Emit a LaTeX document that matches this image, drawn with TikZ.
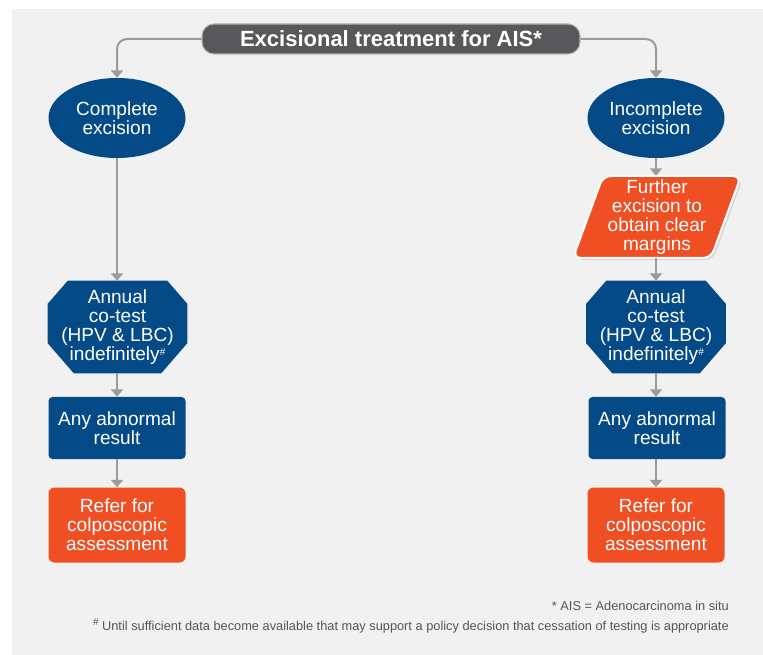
\documentclass[tikz,border=0pt]{standalone}
\usepackage{fontspec}
\setmainfont{Liberation Sans}
\usetikzlibrary{arrows.meta,shapes.geometric,shadows,calc}
\definecolor{panel}{HTML}{F1F1F1}
\definecolor{navy}{HTML}{034A86}
\definecolor{orng}{HTML}{F04E23}
\definecolor{ttl}{HTML}{58585A}
\definecolor{arrc}{HTML}{9B9B9B}
\definecolor{fnc}{HTML}{555555}
\newcommand\supsharp{{\fontsize{7.5}{7.5}\selectfont\raisebox{0.55em}{\#}}}
\newcommand\octfill[1]{%
  \fill[navy] ($(#1.north west)+(0,23)$) -- ($(#1.north west)+(20,0)$) -- ($(#1.north east)+(-20,0)$) -- ($(#1.north east)+(0,23)$)
   -- ($(#1.south east)+(0,-30)$) -- ($(#1.south east)+(-26,0)$) -- ($(#1.south west)+(26,0)$) -- ($(#1.south west)+(0,-30)$) -- cycle;}
\begin{document}
\begin{tikzpicture}[x=0.75pt,y=-0.75pt,
  txt/.style={text=white,align=center,font=\fontsize{14.3}{14.3}\selectfont,inner sep=0pt},
  bluefill/.style={txt,fill=navy},
  ellnode/.style={bluefill,ellipse,minimum width=102.75pt,minimum height=60pt},
  octnode/.style={txt,rectangle,minimum width=104.25pt,minimum height=69pt},
  abnnode/.style={bluefill,rectangle,rounded corners=3pt,minimum width=102.75pt,minimum height=46.5pt},
  refnode/.style={txt,fill=orng,rectangle,rounded corners=4.5pt,minimum width=102.75pt,minimum height=56.25pt},
  arr/.style={draw=arrc,line width=1.5pt,-{Triangle[width=9pt,length=5.5pt]}},
  fnote/.style={text=fnc,font=\fontsize{9.6}{11}\selectfont,inner sep=0pt,anchor=east}
]
\useasboundingbox (0,0) rectangle (763,655);
\fill[white] (0,0) rectangle (763,655);
\fill[panel] (12,9) rectangle (763,655);

% title
\node[fill=ttl,draw=black!30,line width=0.8pt,rounded corners=9pt,minimum width=283.5pt,minimum height=22.5pt,inner sep=0pt,text=white,font=\bfseries\fontsize{16.5}{17}\selectfont] (title) at (391,39) {Excisional treatment for AIS*};

% left branch
\node[ellnode] (ce) at (117,118) {Complete\\excision};
\node[octnode] (ocl) at (117.5,327) {};
\octfill{ocl}
\node[txt] (oclt) at (ocl.center) {Annual\\co-test\\(HPV \& LBC)\\indefinitely\supsharp};
\node[abnnode] (abl) at (117,428) {Any abnormal\\result};
\node[refnode] (rfl) at (117,525) {Refer for\\colposcopic\\assessment};

% right branch
\node[ellnode] (ie) at (656,118) {Incomplete\\excision};
\node[txt,minimum width=100pt,minimum height=61.5pt] (fe) at (656,217) {};
\path[fill=orng,draw=white,line width=1.5pt,rounded corners=6pt,drop shadow={opacity=0.25,shadow xshift=1.5pt,shadow yshift=-1.5pt}]
  (603,176) -- (741,176) -- (711,258) -- (573,258) -- cycle;
\node[txt] (fet) at (657,217) {Further\\excision to\\obtain clear\\margins};
\node[octnode] (ocr) at (656,327) {};
\octfill{ocr}
\node[txt] (ocrt) at (ocr.center) {Annual\\co-test\\(HPV \& LBC)\\indefinitely\supsharp};
\node[abnnode] (abr) at (657,428) {Any abnormal\\result};
\node[refnode] (rfr) at (656,525) {Refer for\\colposcopic\\assessment};

% connectors
\draw[arr,rounded corners=7.5pt] (title.west) -| (ce.north);
\draw[arr,rounded corners=7.5pt] (title.east) -| (ie.north);
\draw[arr] (ce.south) -- (ce.south |- ocl.north);
\draw[arr] (ce.south |- ocl.south) -- (ce.south |- abl.north);
\draw[arr] (abl.south) -- (rfl.north);
\draw[arr] (ie.south) -- (fe.north);
\draw[arr] (fe.south) -- (ocr.north);
\draw[arr] (ocr.south) -- (ocr.south |- abr.north);
\draw[arr] (ocr.south |- abr.south) -- (rfr.north);

% footnotes
\node[fnote] (f1) at (729,606) {* AIS = Adenocarcinoma in situ};
\node[fnote] (f2) at (729,626) {\supsharp\ Until sufficient data become available that may support a policy decision that cessation of testing is appropriate};
\end{tikzpicture}
\end{document}
